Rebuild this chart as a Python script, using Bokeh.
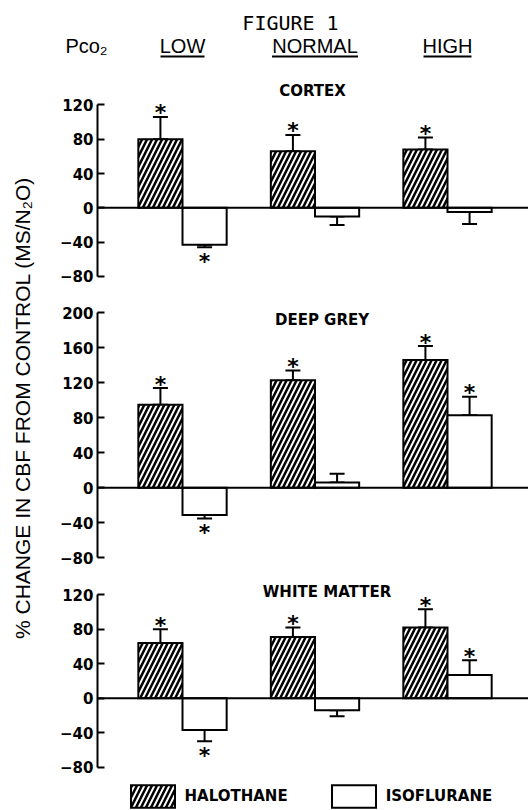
import numpy as np
from bokeh.plotting import figure
from bokeh.layouts import row, column
from bokeh.models import (ColumnDataSource, Range1d, FixedTicker, Span, Whisker,
                          TeeHead, Legend, LegendItem, LinearAxis)
from bokeh.core.properties import value
from bokeh.embed import file_html
from bokeh.resources import INLINE

# ---------------- data ----------------
figure_title = "FIGURE 1"
pco2_label = "Pco\u2082"
groups = ["LOW", "NORMAL", "HIGH"]
agents = ["HALOTHANE", "ISOFLURANE"]
y_label = "% CHANGE IN CBF FROM CONTROL (MS/N\u2082O)"
panel_names = ["CORTEX", "DEEP GREY", "WHITE MATTER"]

cortex_hal = [80, 66, 68]
cortex_hal_err = [26, 19, 14]
cortex_iso = [-43, -10, -5]
cortex_iso_err = [3, 10, 14]
cortex_hal_star = [1, 1, 1]
cortex_iso_star = [1, 0, 0]

deep_hal = [95, 123, 146]
deep_hal_err = [19, 11, 16]
deep_iso = [-31, 6, 83]
deep_iso_err = [4, 10, 21]
deep_hal_star = [1, 1, 1]
deep_iso_star = [1, 0, 1]

white_hal = [64, 71, 82]
white_hal_err = [16, 11, 21]
white_iso = [-37, -14, 27]
white_iso_err = [13, 7, 17]
white_hal_star = [1, 1, 1]
white_iso_star = [1, 0, 1]

cortex_ticks = [-80, -40, 0, 40, 80, 120]
deep_ticks = [-80, -40, 0, 40, 80, 120, 160, 200]
white_ticks = [-80, -40, 0, 40, 80, 120]

# ---------------- layout constants (page px) ----------------
GX0 = 182.0   # page x of group 0 centre
GP = 132.5    # px per group
COL_L = 48    # left of panel column
AXIS_PX = 97  # page x of y axis
PAGE_R = 528
PAGE_H = 810
HDR_H = 80

def px_to_x(px):
    return (px - GX0) / GP

BOLD_NAME = "DejaVu Sans"
BOLD_FONT = value(BOLD_NAME)
SANS = value("Liberation Sans")
MONO = value("DejaVu Sans Mono")

shared_x = Range1d(px_to_x(AXIS_PX), px_to_x(PAGE_R))


def base_fig(width, height, x_range, y_range, left=0):
    p = figure(width=width, height=height, x_range=x_range, y_range=y_range,
               output_backend="svg", toolbar_location=None,
               x_axis_location=None, y_axis_location=None,
               min_border_left=left, min_border_right=0,
               min_border_top=0, min_border_bottom=0)
    p.outline_line_color = None
    p.grid.visible = False
    p.background_fill_color = "white"
    p.border_fill_color = "white"
    return p


# ---------------- header (full width) ----------------
hdr = base_fig(PAGE_R, HDR_H, Range1d(px_to_x(0), px_to_x(PAGE_R)), Range1d(HDR_H, 0))
hdr.text(x=[px_to_x(290)], y=[22], text=[figure_title], text_font=MONO,
         text_font_size="20px", text_align="center", text_baseline="middle",
         text_color="black")
hdr.text(x=[px_to_x(86)], y=[45], text=[pco2_label], text_font=SANS,
         text_font_size="20px", text_align="center", text_baseline="middle",
         text_color="black")
gx = list(range(len(groups)))
hdr.text(x=gx, y=[45] * 3, text=groups, text_font=SANS, text_font_size="20px",
         text_align="center", text_baseline="middle", text_color="black")
half_w = [22 / GP, 43 / GP, 24 / GP]
hdr.segment(x0=[g - h for g, h in zip(gx, half_w)], x1=[g + h for g, h in zip(gx, half_w)],
            y0=[56] * 3, y1=[56] * 3, line_width=2, line_color="black")


# ---------------- panels ----------------
def make_panel(name, hal, hal_err, iso, iso_err, hal_star, iso_star, ticks,
               top_px, bot_px, zero_px, ppu, title_px_y, title_px_x, legend=False):
    y_top = (zero_px - top_px) / ppu
    y_bot = (zero_px - bot_px) / ppu
    p = base_fig(PAGE_R - COL_L, int(bot_px - top_px), shared_x, Range1d(y_bot, y_top),
                 left=AXIS_PX - COL_L)
    ax = LinearAxis(ticker=FixedTicker(ticks=ticks))
    ax.bounds = (min(ticks), max(ticks))
    ax.axis_line_width = 2
    ax.axis_line_color = "black"
    ax.major_tick_line_width = 2
    ax.major_tick_line_color = "black"
    ax.major_tick_in = 7
    ax.major_tick_out = 0
    ax.minor_tick_line_color = None
    ax.major_label_standoff = 4
    ax.major_label_text_font = BOLD_NAME
    ax.major_label_text_font_style = "bold"
    ax.major_label_text_font_size = "15px"
    ax.major_label_text_color = "black"
    p.add_layout(ax, "left")

    p.add_layout(Span(location=0, dimension="width", line_color="black", line_width=2))

    renderers = []
    for vals, errs, stars, off, hatch in ((hal, hal_err, hal_star, -1 / 6, "/"),
                                          (iso, iso_err, iso_star, 1 / 6, " ")):
        xs = [i + off for i in range(len(vals))]
        caps = [v + (e if v >= 0 else -e) for v, e in zip(vals, errs)]
        src = ColumnDataSource(dict(x=xs, top=vals, lo=[min(v, c) for v, c in zip(vals, caps)],
                                    hi=[max(v, c) for v, c in zip(vals, caps)]))
        r = p.vbar(x="x", top="top", bottom=0, width=1 / 3, source=src,
                   fill_color="white", line_color="black", line_width=2,
                   line_join="miter", hatch_pattern=hatch, hatch_color="black",
                   hatch_weight=2.5, hatch_scale=10)
        renderers.append(r)
        p.add_layout(Whisker(source=src, base="x", lower="lo", upper="hi",
                             line_color="black", line_width=2,
                             upper_head=TeeHead(size=15, line_width=2, line_color="black"),
                             lower_head=TeeHead(size=15, line_width=2, line_color="black")))
        pos = [(x, c) for x, c, s, v in zip(xs, caps, stars, vals) if s and v >= 0]
        neg = [(x, c) for x, c, s, v in zip(xs, caps, stars, vals) if s and v < 0]
        for pts, yoff in ((pos, -4), (neg, 14)):
            if pts:
                p.text(x=[a for a, _ in pts], y=[b for _, b in pts], text=["*"] * len(pts),
                       text_font=BOLD_FONT, text_font_style="bold", text_font_size="22px",
                       text_align="center", text_baseline="alphabetic", y_offset=yoff,
                       text_color="black")

    p.text(x=[px_to_x(title_px_x)], y=[(zero_px - title_px_y) / ppu], text=[name],
           text_font=BOLD_FONT, text_font_style="bold", text_font_size="15px",
           text_align="center", text_baseline="middle", text_color="black")

    if legend:
        leg = Legend(items=[LegendItem(label=agents[0], renderers=[renderers[0]]),
                            LegendItem(label=agents[1], renderers=[renderers[1]])],
                     location=(27.5, 0), orientation="horizontal",
                     glyph_width=55, glyph_height=28, label_height=28,
                     label_standoff=5, spacing=38, padding=0, margin=0,
                     border_line_color=None, background_fill_alpha=0,
                     label_text_font=BOLD_NAME, label_text_font_style="bold",
                     label_text_font_size="15px", label_text_color="black")
        p.add_layout(leg)
    return p


cortex = make_panel(panel_names[0], cortex_hal, cortex_hal_err, cortex_iso, cortex_iso_err,
                    cortex_hal_star, cortex_iso_star, cortex_ticks,
                    80, 290, 207.3, 0.8575, 90, 312)
deep = make_panel(panel_names[1], deep_hal, deep_hal_err, deep_iso, deep_iso_err,
                  deep_hal_star, deep_iso_star, deep_ticks,
                  290, 575, 487.3, 0.875, 319, 321.5)
white = make_panel(panel_names[2], white_hal, white_hal_err, white_iso, white_iso_err,
                   white_hal_star, white_iso_star, white_ticks,
                   575, 810, 697.7, 0.8625, 591, 326.5, legend=True)

# ---------------- y label ----------------
ylab = base_fig(COL_L, PAGE_H - HDR_H, Range1d(0, COL_L), Range1d(PAGE_H, HDR_H))
ylab.text(x=[22], y=[407.5], text=[y_label], angle=np.pi / 2, text_font=SANS,
          text_font_size="21px", text_align="center", text_baseline="middle",
          text_color="black")

layout = column(hdr, row(ylab, column(cortex, deep, white)))
open("out.html", "w").write(file_html(layout, INLINE))
